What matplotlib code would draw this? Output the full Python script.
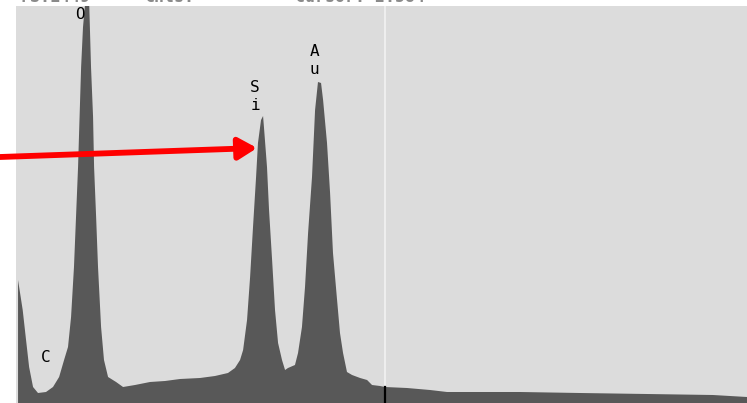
import numpy as np
import matplotlib.pyplot as plt

# EDS spectrum, energy in keV and counts per channel (read at the main turning points)
energy = [0.065, 0.097, 0.120, 0.141, 0.168, 0.202, 0.257, 0.305, 0.347, 0.381,
          0.408, 0.429, 0.449, 0.463, 0.477, 0.484, 0.498, 0.511, 0.532, 0.553,
          0.566, 0.580, 0.587, 0.601, 0.614, 0.635, 0.655, 0.683, 0.738, 0.786,
          0.868, 0.971, 1.074, 1.177, 1.314, 1.417, 1.506, 1.554, 1.589, 1.610,
          1.637, 1.658, 1.678, 1.699, 1.712, 1.733, 1.747, 1.753, 1.774, 1.788,
          1.809, 1.829, 1.850, 1.877, 1.898, 1.918, 1.966, 1.987, 2.014, 2.035,
          2.056, 2.083, 2.104, 2.124, 2.145, 2.159, 2.186, 2.207, 2.227, 2.255,
          2.275, 2.296, 2.323, 2.358, 2.413, 2.461, 2.495, 2.550, 2.584, 2.735,
          2.893, 3.010, 3.511, 3.923, 4.382, 4.835, 5.069]
counts = [615, 465, 315, 180, 80, 50, 55, 80, 130, 215,
          280, 430, 680, 930, 1180, 1350, 1680, 1880, 2050, 2010,
          1680, 1430, 1180, 930, 680, 380, 215, 130, 105, 80,
          90, 105, 110, 120, 125, 135, 150, 175, 215, 265,
          415, 630, 880, 1130, 1300, 1415, 1435, 1380, 1180, 965,
          715, 465, 300, 215, 165, 175, 190, 250, 380, 580,
          850, 1130, 1465, 1605, 1600, 1515, 1300, 1050, 750, 515,
          350, 250, 155, 140, 125, 115, 90, 85, 80, 75,
          65, 55, 55, 50, 45, 40, 30]

# element labels: (text, energy, counts)
labels = [("O", 0.491, 1945), ("C", 0.257, 230),
          ("S", 1.692, 1575), ("i", 1.692, 1490),
          ("A", 2.097, 1760), ("u", 2.097, 1665)]

cursor_kev = 2.584

fig = plt.figure(figsize=(7.47, 4.03), dpi=100)
ax = fig.add_axes([16 / 747, 0, 731 / 747, 397 / 403])
ax.set_facecolor('#dcdcdc')
ax.set_xlim(0.051, 5.069)
ax.set_ylim(0, 1985)
for s in ax.spines.values():
    s.set_visible(False)
ax.set_xticks([])
ax.set_yticks([])

ax.axvline(cursor_kev, color='#f2f2f2', lw=1.2, zorder=1)
ax.fill_between(energy, counts, 0, color='#585858', lw=0, zorder=2)
ax.plot([cursor_kev, cursor_kev], [0, 80], color='black', lw=1.6, zorder=3)

for txt, e, c in labels:
    ax.text(e, c, txt, family='DejaVu Sans Mono', fontsize=11.5, ha='center',
            va='center', color='black', zorder=4)

# red arrow pointing at the Si peak
ax.annotate('', xy=(1.706, 1275), xycoords='data',
            xytext=(0, 246), textcoords='figure pixels',
            arrowprops=dict(arrowstyle='-|>,head_length=0.85,head_width=0.5',
                            color='#ff0000', lw=4.2, mutation_scale=13,
                            shrinkA=0, shrinkB=0),
            annotation_clip=False, zorder=5)

# header line, cut off by the top edge of the image
for x, txt in [(20, "FS:1449"), (145, "Cnts:"), (295, "Cursor: 2.584")]:
    fig.text(x / 747, 1 - 2.5 / 403, txt, family='DejaVu Sans Mono',
             fontsize=12, fontweight='bold', color='#8a8a8a',
             va='baseline', ha='left')

fig.savefig('out.png', dpi=100, facecolor='white')
